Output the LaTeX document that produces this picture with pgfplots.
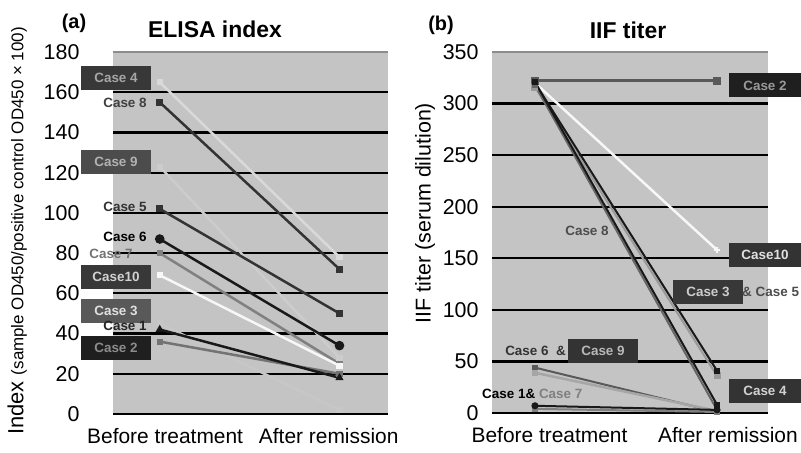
\documentclass[border=0pt]{standalone}
\usepackage{pgfplots}
\pgfplotsset{compat=1.18}
\usepackage{fontspec}
\setmainfont{Liberation Sans}
\definecolor{bgc}{RGB}{196,196,196}
\definecolor{bordc}{RGB}{140,140,140}
\newcommand{\lab}{\bfseries\fontsize{13.5}{14}\selectfont}
\pgfplotsset{
  panel/.style={
    scale only axis, anchor=south west,
    axis background/.style={fill=bgc},
    axis line style={draw=none},
    ymajorgrids, grid style={black, line width=2.2bp},
    major tick length=0pt,
    /pgf/number format/assume math mode=true,
    yticklabel style={font=\fontsize{21.5}{22}\selectfont, anchor=east},
    xticklabel style={font=\fontsize{21}{21}\selectfont, anchor=north},
    clip=false,
  },
}
\begin{document}
\begin{tikzpicture}[x=1bp,y=1bp]
\useasboundingbox (0,0) rectangle (801,453);
% ---------------- panel (a)
\begin{axis}[panel, at={(113bp,39bp)}, width=275bp, height=362bp,
  xmin=-0.26, xmax=1.27, ymin=0, ymax=180,
  ytick={0,20,...,180},
  yticklabel shift=30bp,
  xtick={0.03,0.94}, xticklabels={Before treatment, After remission},
  xticklabel shift=11bp]
\addplot[color=black!15, line width=2.5bp, mark=square*, mark size=1.8pt] coordinates {(0,165) (1,78)};   % Case 4
\addplot[color=black!20, line width=2.5bp, mark=square*, mark size=1.8pt] coordinates {(0,123) (1,28)};   % Case 9
\addplot[color=black!22, line width=2.5bp, mark=square*, mark size=1.8pt] coordinates {(0,45) (1,2)};     % Case 3
\addplot[color=black!80, line width=2.5bp, mark=square*, mark size=2.2pt] coordinates {(0,155) (1,72)};   % Case 8
\addplot[color=black!80, line width=2.5bp, mark=square*, mark size=2.2pt] coordinates {(0,102) (1,50)};   % Case 5
\addplot[color=black!50, line width=2.5bp, mark=square*, mark size=1.8pt] coordinates {(0,80) (1,25)};    % Case 7
\addplot[color=black!55, line width=2.5bp, mark=square*, mark size=1.8pt] coordinates {(0,36) (1,20)};    % Case 2
\addplot[color=black!3, line width=2.5bp, mark=square*, mark size=1.8pt] coordinates {(0,69) (1,24)};     % Case 10
\addplot[color=black!90, line width=2.5bp, mark=*, mark size=3.5pt] coordinates {(0,87) (1,34)};          % Case 6
\addplot[color=black!90, line width=2.5bp, mark=triangle*, mark size=2.3pt] coordinates {(0,42) (1,18)};  % Case 1
\draw[bordc, line width=1.5bp] (rel axis cs:0,1) -- (rel axis cs:1,1);
\end{axis}
% ---------------- panel (b)
\begin{axis}[panel, at={(492bp,40bp)}, width=276bp, height=361bp,
  xmin=-0.236, xmax=1.28, ymin=0, ymax=350,
  ytick={0,50,...,350},
  yticklabel shift=10bp,
  xtick={0.08,1.06}, xticklabels={Before treatment, After remission},
  xticklabel shift=11bp]
\addplot[color=black!65, line width=3bp, mark=square*, mark size=2.5pt] coordinates {(0,322) (1,322)};   % Case 2
\addplot[color=black!3, line width=2.5bp, mark=+, mark size=3pt] coordinates {(0,320) (1,158)};          % Case 10
\addplot[color=black!40, line width=2bp, mark=square*, mark size=2.5pt] coordinates {(0,316) (1,36)};    % Case 5
\addplot[color=black!90, line width=2bp, mark=square*, mark size=2pt] coordinates {(0,320) (1,41)};      % Case 3
\addplot[color=black!60, line width=2bp, mark=square*, mark size=2pt] coordinates {(0,318) (1,3)};       % Case 4
\addplot[color=black!90, line width=2bp, mark=square*, mark size=2pt] coordinates {(0,321) (1,8)};       % Case 8
\addplot[color=black!65, line width=2bp, mark=square*, mark size=2pt] coordinates {(0,44) (1,1)};        % Case 6
\addplot[color=black!35, line width=2.5bp, mark=square*, mark size=2pt] coordinates {(0,39) (1,2)};      % Case 9
\addplot[color=black!50, line width=2bp, mark=square*, mark size=2pt] coordinates {(0,4) (1,1)};         % Case 7
\addplot[color=black!90, line width=2bp, mark=*, mark size=2.5pt] coordinates {(0,7) (1,3)};             % Case 1
\draw[bordc, line width=1.5bp] (rel axis cs:0,1) -- (rel axis cs:1,1);
\end{axis}
% ---------------- titles and axis labels
\node[font=\bfseries\fontsize{20}{20}\selectfont] at (74,430) {(a)};
\node[font=\bfseries\fontsize{23}{23}\selectfont] at (215,424) {ELISA index};
\node[font=\bfseries\fontsize{20}{20}\selectfont] at (441,428) {(b)};
\node[font=\bfseries\fontsize{23}{23}\selectfont] at (628,423) {IIF titer};
\node[rotate=90, anchor=south, inner sep=0pt] at (27,222) {\fontsize{22}{22}\selectfont Index \fontsize{17}{17}\selectfont(sample OD450/positive control OD450 × 100)};
\node[rotate=90, inner sep=0pt] at (425,240) {\fontsize{21.5}{22}\selectfont IIF titer (serum dilution)};
% ---------------- case labels, panel (a)
\tikzset{cbox/.style={minimum width=70bp, minimum height=24bp, inner sep=0pt, font=\lab}}
\node[cbox, fill=black!78, text=black!35] at (116,375) {Case 4};
\node[font=\lab, text=black!75] at (125,350) {Case 8};
\node[cbox, fill=black!70, text=black!30] at (116,291) {Case 9};
\node[font=\lab, text=black!80] at (125,246) {Case 5};
\node[font=\lab, text=black] at (125,216) {Case 6};
\node[font=\lab, text=black!55] at (111,199) {Case 7};
\node[cbox, fill=black!78, text=black!18] at (116,176) {Case10};
\node[cbox, fill=black!65, text=black!12] at (116,142) {Case 3};
\node[font=\lab, text=black!85] at (125,127) {Case 1};
\node[cbox, fill=black!88, text=black!45] at (116,105) {Case 2};
% ---------------- case labels, panel (b)
\node[cbox, minimum width=72bp, fill=black!88, text=black!40] at (765,367.5) {Case 2};
\node[cbox, minimum width=72bp, fill=black!80, text=black!12] at (765,198) {Case10};
\node[font=\lab, text=black!70] at (587,222) {Case 8};
\node[cbox, fill=black!78, text=black!20] at (708,161) {Case 3};
\node[font=\lab, text=black!70, anchor=west, inner sep=1pt] at (741,161) {\& Case 5};
\node[cbox, fill=black!80, text=black!28] at (603,102) {Case 9};
\node[font=\lab, text=black!80, anchor=east, inner sep=1pt] at (567,102) {Case 6\ \ \&};
\node[cbox, minimum width=72bp, fill=black!80, text=black!18] at (765,62) {Case 4};
\node[font=\lab, anchor=west, inner sep=0pt] at (482,59) {Case 1\& \textcolor{black!50}{Case 7}};
\end{tikzpicture}
\end{document}
